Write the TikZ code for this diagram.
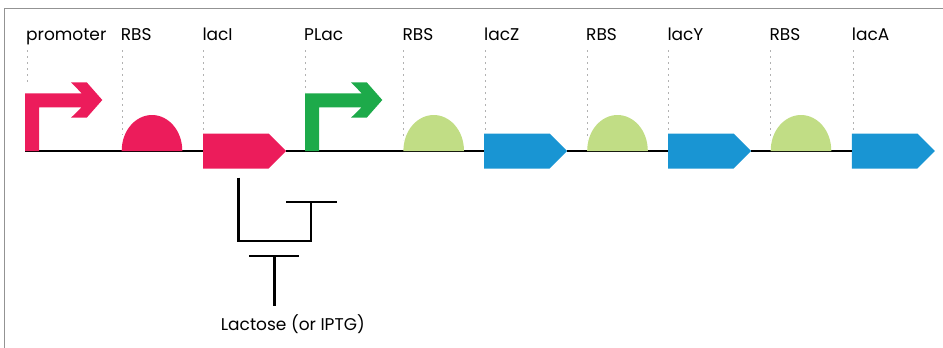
\documentclass[tikz,border=0pt]{standalone}
\usepackage{fontspec}
\setmainfont{Poppins}
\usetikzlibrary{shapes.symbols}
\usetikzlibrary{positioning}
\definecolor{partred}{HTML}{EC1C5B}
\definecolor{partgreen}{HTML}{1DAA4A}
\definecolor{rbsgreen}{HTML}{C1DD85}
\definecolor{cdsblue}{HTML}{1995D3}
\tikzset{cds/.style = {signal, signal to=east, signal pointer angle=90, fill=#1,
                       minimum width=83, minimum height=35, inner sep=0, anchor=west}}
\tikzset{lbl/.style = {anchor=base west, inner sep=0, font=\fontsize{17}{20}\selectfont}}
\tikzset{guide/.style = {gray!60, line width=1, dash pattern=on 2 off 4}}
\tikzset{wire/.style = {line width=2.5}}
\tikzset{prom/.style = {fill=#1}}

\begin{document}
\begin{tikzpicture}[x=1pt, y=-1pt]
      \useasboundingbox (0, 0) rectangle (943, 348);
      \draw [gray!85, line width=1.5] (4.5, 348) -- (4.5, 8.5) -- (943, 8.5);
      \foreach \x/\y/\t [count=\i] in {26/85/promoter, 120.7/135/RBS, 202.3/133/lacI,
                                      304/92/PLac, 402.3/140/RBS, 484/133/lacZ,
                                      586/140/RBS, 667.3/133/lacY, 769.3/140/RBS, 851.7/133/lacA} {
        \node [lbl] (t\i) at (\x, 40) {\t};
        \draw [guide] (\x + 1.5, 50) -- (\x + 1.5, \y);
      }
      \node [cds=partred] (lacI) at (203, 151) {};
      \node [cds=cdsblue] (lacZ) at (484, 151) {};
      \node [cds=cdsblue] (lacY) at (668, 151) {};
      \node [cds=cdsblue] (lacA) at (851.7, 151) {};
      \draw [wire] (25, 151) -- (lacI.west);
      \draw [wire] (lacI.east) -- (lacZ.west);
      \draw [wire] (lacZ.east) -- (lacY.west);
      \draw [wire] (lacY.east) -- (lacA.west);
      \foreach \x/\c in {25/partred, 305/partgreen}
        \fill [prom=\c, shift={(\x, 151)}] (0, 0) -- (0, -57.7) -- (56.7, -57.7) -- (46, -68.7)
          -- (61.7, -68.7) -- (77.3, -51) -- (61.7, -33.3) -- (46, -33.3) -- (56.7, -43.7)
          -- (14, -43.7) -- (14, 0) -- cycle;
      \foreach \x/\c in {152/partred, 433.7/rbsgreen, 617.5/rbsgreen, 801/rbsgreen}
        \fill [\c] (\x - 30.3, 151) .. controls (\x - 30.3, 130) and (\x - 16, 115) .. (\x, 115)
          .. controls (\x + 16, 115) and (\x + 30.3, 130) .. (\x + 30.3, 151) -- cycle;
      \coordinate (rep) at (238.3, 177.7);
      \coordinate (plac) at (311, 202);
      \draw [wire] (rep) |- (311, 241) -- (plac);
      \draw [wire] ([xshift=-25]plac) -- ([xshift=25.7]plac);
      \node [lbl] (lactose) at (220.7, 330) {Lactose (or IPTG)};
      \coordinate (block) at (274.3, 256);
      \draw [wire] ([xshift=-25]block) -- ([xshift=25]block);
      \draw [wire] (block) -- (274.3, 305.7);
    \end{tikzpicture}
\end{document}
